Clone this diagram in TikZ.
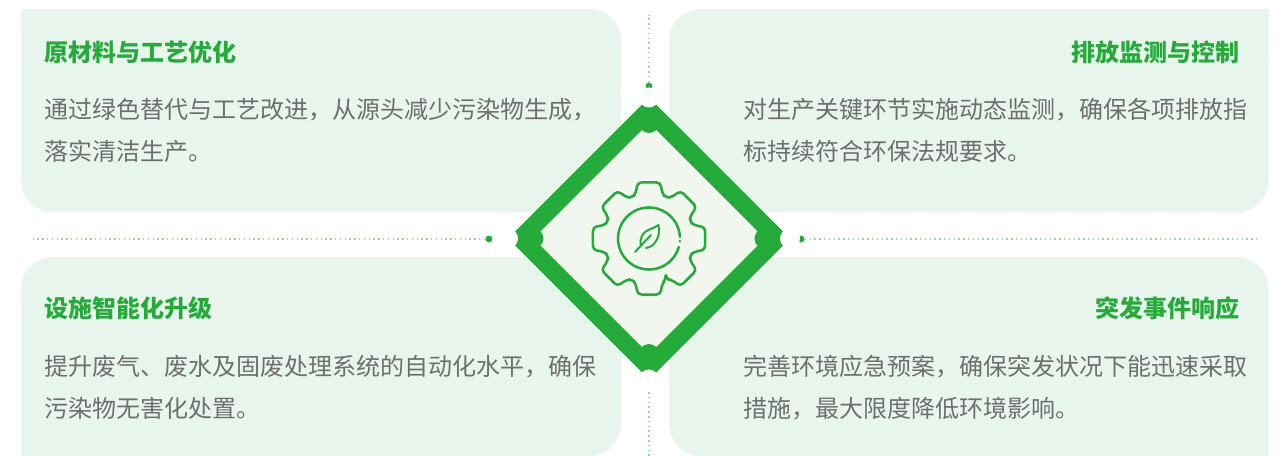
\documentclass[tikz,border=0pt]{standalone}
\usepackage{fontspec}
\setmainfont{Noto Sans CJK SC}
\usetikzlibrary{calc}
\definecolor{leafgreen}{HTML}{24AB3A}
\definecolor{cardbg}{HTML}{E8F5EC}
\definecolor{corebg}{HTML}{F1F6EE}
\definecolor{dotgreen}{HTML}{93D9A0}
\definecolor{bodygray}{HTML}{6E6E6E}
\tikzset{
 cardtitle/.style={inner sep=0, font=\fontsize{18pt}{18pt}\selectfont\bfseries, text=leafgreen},
 cardbody/.style={inner sep=0, font=\fontsize{18pt}{18pt}\selectfont, text=bodygray},
 guide/.style={dotgreen, line width=1.1pt, dash pattern=on 1.1pt off 2.5pt},
 enddot/.style={circle, fill=leafgreen, inner sep=0, minimum size=5.2pt},
 gearline/.style={leafgreen, line width=1.9pt, line cap=round, line join=round}
}
\begin{document}
\begin{tikzpicture}[x=.75pt, y=-.75pt]
\useasboundingbox (0,0) rectangle (1283,456);
\fill[white] (0,0) rectangle (1283,456);
% cards
\fill[cardbg, rounded corners=24pt] (21,9) -- (621,9) -- (621,212.5) -- (21,212.5) -- cycle;
\fill[cardbg] (21,9) rectangle (60,60);
\fill[cardbg] (570,160) rectangle (621,212.5);
\fill[cardbg, rounded corners=24pt] (669,9) -- (1268.5,9) -- (1268.5,212.5) -- (669,212.5) -- cycle;
\fill[cardbg] (1220,9) rectangle (1268.5,60);
\fill[cardbg] (669,160) rectangle (720,212.5);
\fill[cardbg, rounded corners=24pt] (21,257) -- (621,257) -- (621,456) -- (21,456) -- cycle;
\fill[cardbg] (570,257) rectangle (621,310);
\fill[cardbg] (21,400) rectangle (60,456);
\fill[cardbg, rounded corners=24pt] (669,257) -- (1268.5,257) -- (1268.5,456) -- (669,456) -- cycle;
\fill[cardbg] (669,257) rectangle (720,310);
\fill[cardbg] (1220,400) rectangle (1268.5,456);
% texts
\node[cardtitle, anchor=base west] (titleA) at (44,62) {原材料与工艺优化};
\node[cardbody, anchor=base west] (bodyA1) at (44,119) {通过绿色替代与工艺改进，从源头减少污染物生成，};
\node[cardbody, anchor=base west] (bodyA2) at (44,161) {落实清洁生产。};
\node[cardtitle, anchor=base east] (titleB) at (1240,62) {排放监测与控制};
\node[cardbody, anchor=base west] (bodyB1) at (743,119) {对生产关键环节实施动态监测，确保各项排放指};
\node[cardbody, anchor=base west] (bodyB2) at (743,161) {标持续符合环保法规要求。};
\node[cardtitle, anchor=base west] (titleC) at (44,318) {设施智能化升级};
\node[cardbody, anchor=base west] (bodyC1) at (44,375) {提升废气、废水及固废处理系统的自动化水平，确保};
\node[cardbody, anchor=base west] (bodyC2) at (44,417) {污染物无害化处置。};
\node[cardtitle, anchor=base east] (titleD) at (1240,318) {突发事件响应};
\node[cardbody, anchor=base west] (bodyD1) at (743,375) {完善环境应急预案，确保突发状况下能迅速采取};
\node[cardbody, anchor=base west] (bodyD2) at (743,417) {措施，最大限度降低环境影响。};
% guides
\node[enddot] (dotN) at (649,86) {};
\node[enddot] (dotS) at (649,383.5) {};
\node[enddot] (dotW) at (489,239) {};
\node[enddot] (dotE) at (801,239) {};
\coordinate (endN) at (649,15);
\coordinate (endS) at (649,456);
\coordinate (endW) at (31,239);
\coordinate (endE) at (1259,239);
\foreach \d in {N,S,W,E} {
 \draw[guide] (dot\d) -- (end\d);
}
% diamond
\coordinate (core) at (649,238.5);
\fill[leafgreen] (649,97.5) -- (790,238.5) -- (649,379.5) -- (508,238.5) -- cycle;
\fill[corebg] (649,123) -- (764.5,238.5) -- (649,354) -- (533.5,238.5) -- cycle;
\foreach \a in {0,90,180,270} {
 \fill[leafgreen] ($(core)+(\a:115.5)$) circle (10);
 \fill[white] ($(core)+(\a:141)$) circle (10);
}
% gear
\draw[gearline, rounded corners=3pt] ($(core)+(67.5:44)$)
 \foreach \a in {45,0,-45,-90,-135,-180,-225,-270} {
  -- ($(core)+(\a+16:47.3)$) -- ($(core)+(\a+11.6:57.2)$) -- ($(core)+(\a-11.6:57.2)$) -- ($(core)+(\a-16:47.3)$) -- ($(core)+(\a-22.5:44)$)
 } -- cycle;
\draw[gearline] ($(core)+(16:31)$) arc[start angle=16, end angle=357, radius=31];
\fill[leafgreen] ($(core)+(5:31)$) circle (1.4);
% leaf
\draw[gearline, line width=1.5pt] (658.5,225) .. controls (650,231) and (640,229) .. (640.5,245) (658.5,225) .. controls (661,236) and (655,247) .. (646,248) (635,252) -- (651,235);
\end{tikzpicture}
\end{document}
